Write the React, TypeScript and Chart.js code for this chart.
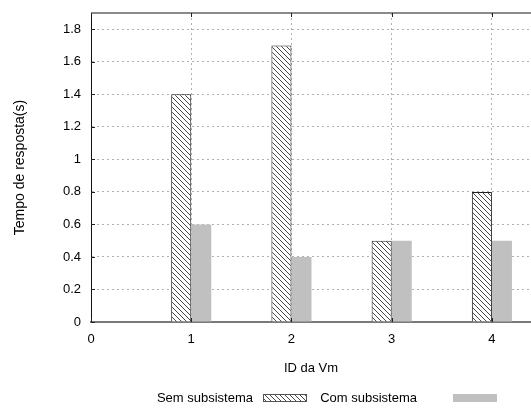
import React, { useEffect, useRef } from "react";
import { Chart, registerables } from "chart.js";

Chart.register(...registerables);

const vmIds = [1, 2, 3, 4];
const semSubsistema = [1.4, 1.7, 0.5, 0.8];
const comSubsistema = [0.6, 0.4, 0.5, 0.5];
const seriesLabels = ["Sem subsistema", "Com subsistema"];
const xAxisTitle = "ID da Vm";
const yAxisTitle = "Tempo de resposta(s)";

const FONT = "'Liberation Sans', Arial, sans-serif";

function makeHatch(): CanvasPattern | string {
  const s = 5;
  const c = document.createElement("canvas");
  c.width = s;
  c.height = s;
  const g = c.getContext("2d");
  if (!g) return "#fff";
  g.fillStyle = "#ffffff";
  g.fillRect(0, 0, s, s);
  g.strokeStyle = "#333333";
  g.lineWidth = 0.9;
  g.beginPath();
  g.moveTo(-1, -1);
  g.lineTo(s + 1, s + 1);
  g.moveTo(-1, s - 1);
  g.lineTo(1, s + 1);
  g.moveTo(s - 1, -1);
  g.lineTo(s + 1, 1);
  g.stroke();
  const p = g.createPattern(c, "repeat");
  return p || "#fff";
}

export default function App() {
  const ref = useRef<HTMLCanvasElement | null>(null);

  useEffect(() => {
    if (!ref.current) return;
    const hatch = makeHatch();
    const gray = "#c0c0c0";

    const framePlugin = {
      id: "frame",
      afterDatasetsDraw(chart: any) {
        const { ctx, chartArea } = chart;
        const { left, right, top, bottom } = chartArea;
        const xs = chart.scales.x;
        const ys = chart.scales.y;
        ctx.save();
        ctx.strokeStyle = "#8a8a8a";
        ctx.lineWidth = 2;
        ctx.beginPath();
        ctx.moveTo(left, top);
        ctx.lineTo(right, top);
        ctx.stroke();
        ctx.strokeStyle = "#222";
        ctx.lineWidth = 1;
        ctx.beginPath();
        xs.ticks.forEach((t: any) => {
          const px = Math.round(xs.getPixelForValue(t.value)) + 0.5;
          ctx.moveTo(px, top);
          ctx.lineTo(px, top + 4);
          ctx.moveTo(px, bottom);
          ctx.lineTo(px, bottom - 4);
        });
        ys.ticks.forEach((t: any) => {
          const py = Math.round(ys.getPixelForValue(t.value)) + 0.5;
          ctx.moveTo(left, py);
          ctx.lineTo(left + 4, py);
        });
        ctx.stroke();
        ctx.restore();
      },
      afterDraw(chart: any) {
        const { ctx } = chart;
        const ds = chart.data.datasets;
        const y = 398;
        const boxW = 44;
        const boxH = 8;
        const entries = [
          { textRight: 253, boxX: 263 },
          { textRight: 417, boxX: 453 },
        ];
        ctx.save();
        ctx.font = `13px ${FONT}`;
        ctx.textAlign = "right";
        ctx.textBaseline = "middle";
        entries.forEach((e, i) => {
          ctx.fillStyle = "#000";
          ctx.fillText(ds[i].label, e.textRight, y);
          ctx.fillStyle = ds[i].backgroundColor;
          ctx.fillRect(e.boxX, y - boxH / 2, boxW, boxH);
          if (i === 0) {
            ctx.strokeStyle = "#555";
            ctx.lineWidth = 1;
            ctx.strokeRect(e.boxX + 0.5, y - boxH / 2 + 0.5, boxW - 1, boxH - 1);
          }
        });
        ctx.restore();
      },
    };

    const chart = new Chart(ref.current, {
      type: "bar",
      data: {
        datasets: [
          {
            label: seriesLabels[0],
            data: vmIds.map((id, i) => ({ x: id, y: semSubsistema[i] })),
            backgroundColor: hatch as any,
            borderColor: "#222",
            borderWidth: 1,
            borderSkipped: "bottom",
            categoryPercentage: 0.4,
            barPercentage: 1.0,
          },
          {
            label: seriesLabels[1],
            data: vmIds.map((id, i) => ({ x: id, y: comSubsistema[i] })),
            backgroundColor: gray,
            borderWidth: 0,
            categoryPercentage: 0.4,
            barPercentage: 1.0,
          },
        ],
      },
      options: {
        animation: false,
        responsive: true,
        maintainAspectRatio: false,
        layout: { padding: { top: 13, right: 0, left: 0, bottom: 0 } },
        plugins: {
          legend: { display: false },
          tooltip: { enabled: false },
        },
        scales: {
          x: {
            type: "linear",
            min: 0,
            max: 4.39,
            offset: false,
            ticks: {
              stepSize: 1,
              includeBounds: false,
              padding: 10,
              color: "#000",
              font: { family: FONT, size: 13 },
              callback: (v: any) => String(v),
            },
            grid: {
              offset: false,
              color: (c: any) => (c.tick && c.tick.value === 0 ? "rgba(0,0,0,0)" : "#b0b0b0"),
              lineWidth: 1,
              drawTicks: false,
            },
            border: { display: true, color: "#7a7a7a", width: 2, dash: [2, 3] as any },
            title: {
              display: true,
              text: xAxisTitle,
              color: "#000",
              font: { family: FONT, size: 13 },
              padding: { top: 0, bottom: 38 },
            },
            afterFit: (s: any) => {
              s.height = 92;
              s.paddingLeft = 0;
              s.paddingRight = 0;
            },
          } as any,
          y: {
            min: 0,
            max: 1.9,
            ticks: {
              stepSize: 0.2,
              includeBounds: false,
              padding: 10,
              color: "#000",
              font: { family: FONT, size: 13 },
              callback: (v: any) => String(Number(Number(v).toFixed(1))),
            },
            grid: {
              color: "#b0b0b0",
              lineWidth: 1,
              drawTicks: false,
            },
            border: { display: true, color: "#111", width: 1, dash: [2, 3] as any },
            title: {
              display: true,
              text: yAxisTitle,
              color: "#000",
              font: { family: FONT, size: 14 },
              padding: { top: 12, bottom: 0 },
            },
            afterFit: (s: any) => {
              s.width = 91;
              s.paddingTop = 0;
              s.paddingBottom = 0;
            },
          } as any,
        },
      },
      plugins: [framePlugin],
    });
    return () => chart.destroy();
  }, []);

  return (
    <div style={{ position: "absolute", left: 0, top: 0, width: 531, height: 414, background: "#fff" }}>
      <canvas ref={ref} />
    </div>
  );
}
